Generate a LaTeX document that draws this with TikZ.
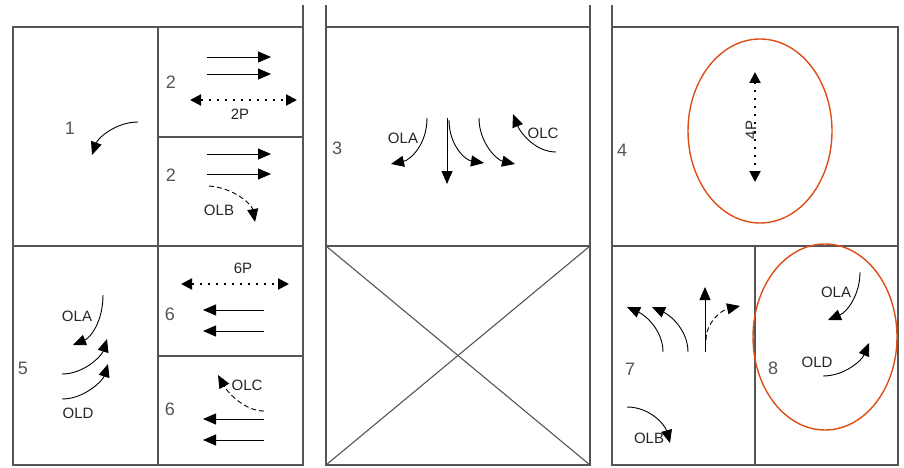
\documentclass[tikz,border=0pt]{standalone}
\usepackage{fontspec}
\setmainfont{Liberation Sans}
\usetikzlibrary{arrows.meta}

\definecolor{wallgray}{RGB}{85,85,85}
\definecolor{ringred}{RGB}{222,78,20}

\tikzset{
  wall/.style={draw=wallgray, line width=1.1pt},
  lane/.style={-{Triangle[length=13pt,width=11pt]}, line width=0.9pt},
  dashlane/.style={lane, dash pattern=on 5pt off 3pt},
  ped/.style={{Triangle[length=11pt,width=11pt]}-{Triangle[length=11pt,width=11pt]},
    line width=2pt, dash pattern=on 2pt off 6pt},
  phase/.style={text=wallgray, font=\fontsize{18}{18}\selectfont},
  movelabel/.style={text=black!85, font=\fontsize{15}{15}\selectfont},
  ring/.style={draw=ringred, line width=1.4pt},
}

\begin{document}
\begin{tikzpicture}[x=1pt,y=-1pt]
\useasboundingbox (0,0) rectangle (904,468);

% left column
\draw[wall] (13,27) rectangle (303,465);
\draw[wall] (158,27) -- (158,465);
\draw[wall] (13,246) -- (303,246);
\draw[wall] (158,137) -- (303,137);
\draw[wall] (158,356) -- (303,356);
\draw[wall] (303,5) -- (303,27);

% middle column
\draw[wall] (326,27) rectangle (590,465);
\draw[wall] (326,5) -- (326,27);
\draw[wall] (590,5) -- (590,27);
\draw[wall] (326,246) -- (590,246);
\draw[wall] (326,246) -- (590,465);
\draw[wall] (590,246) -- (326,465);

% right column
\draw[wall] (612,27) rectangle (898,465);
\draw[wall] (612,5) -- (612,27);
\draw[wall] (612,246) -- (898,246);
\draw[wall] (755,246) -- (755,465);

% phase 1
\node[phase] (p1) at (70,128) {1};
\draw[lane] (138,122) .. controls (116,122) and (98,138) .. (92,155);

% phase 2 top
\node[phase] (p2a) at (171,82) {2};
\draw[lane] (207,57) -- (271,57);
\draw[lane] (207,74) -- (271,74);
\draw[ped] (190,100) -- (297,100);
\node[movelabel] (ped2) at (240,114) {2P};

% phase 2 bottom
\node[phase] (p2b) at (171,175) {2};
\draw[lane] (207,154) -- (271,154);
\draw[lane] (207,174) -- (271,174);
\draw[dashlane] (209,186) .. controls (235,188) and (252,205) .. (255,222);
\node[movelabel] (olb2) at (219,210) {OLB};

% phase 5
\node[phase] (p5) at (23,368) {5};
\draw[lane] (103,295) .. controls (103,322) and (90,338) .. (73,345);
\node[movelabel] (ola5) at (77,316) {OLA};
\draw[lane] (62,374) .. controls (85,374) and (102,355) .. (107,339);
\draw[lane] (62,399) .. controls (85,399) and (103,380) .. (108,364);
\node[movelabel] (old5) at (78,413) {OLD};

% phase 6 top
\node[movelabel] (ped6) at (243,268) {6P};
\draw[ped] (181,284) -- (289,284);
\node[phase] (p6a) at (170,314) {6};
\draw[lane] (264,310) -- (203,310);
\draw[lane] (264,331) -- (203,331);

% phase 6 bottom
\node[phase] (p6b) at (170,409) {6};
\draw[dashlane] (264,411) .. controls (245,411) and (228,393) .. (218,375);
\node[movelabel] (olc6) at (247,385) {OLC};
\draw[lane] (264,419) -- (203,419);
\draw[lane] (264,440) -- (203,440);

% phase 3
\node[phase] (p3) at (337,148) {3};
\draw[lane] (427,118) .. controls (427,145) and (410,160) .. (391,164);
\node[movelabel] (ola3) at (403,138) {OLA};
\draw[lane] (447,118) -- (447,184);
\draw[lane] (449,120) .. controls (449,145) and (465,160) .. (484,163);
\draw[lane] (479,118) .. controls (479,143) and (497,160) .. (515,164);
\draw[lane] (556,152) .. controls (535,152) and (520,132) .. (513,114);
\node[movelabel] (olc3) at (543,133) {OLC};

% phase 4
\node[phase] (p4) at (622,150) {4};
\draw[ring] (760,131) ellipse [x radius=72pt, y radius=92pt];
\draw[ped] (755,72) -- (755,182);
\node[movelabel, rotate=90] (ped4) at (751,130) {4P};

% phase 7
\node[phase] (p7) at (630,369) {7};
\draw[lane] (663,352) .. controls (663,330) and (645,315) .. (627,307);
\draw[lane] (688,352) .. controls (688,330) and (670,315) .. (652,307);
\draw[lane] (705,352) -- (705,287);
\draw[dashlane] (706,340) .. controls (706,322) and (722,310) .. (740,306);
\draw[lane] (627,407) .. controls (650,407) and (665,425) .. (670,443);
\node[movelabel] (olb7) at (649,438) {OLB};

% phase 8
\node[phase] (p8) at (773,368) {8};
\draw[ring] (825,337) ellipse [x radius=72pt, y radius=93pt];
\draw[lane] (860,272) .. controls (860,295) and (847,312) .. (828,320);
\node[movelabel] (ola8) at (836,292) {OLA};
\draw[lane] (823,376) .. controls (845,376) and (862,360) .. (869,343);
\node[movelabel] (old8) at (817,362) {OLD};
\end{tikzpicture}
\end{document}
